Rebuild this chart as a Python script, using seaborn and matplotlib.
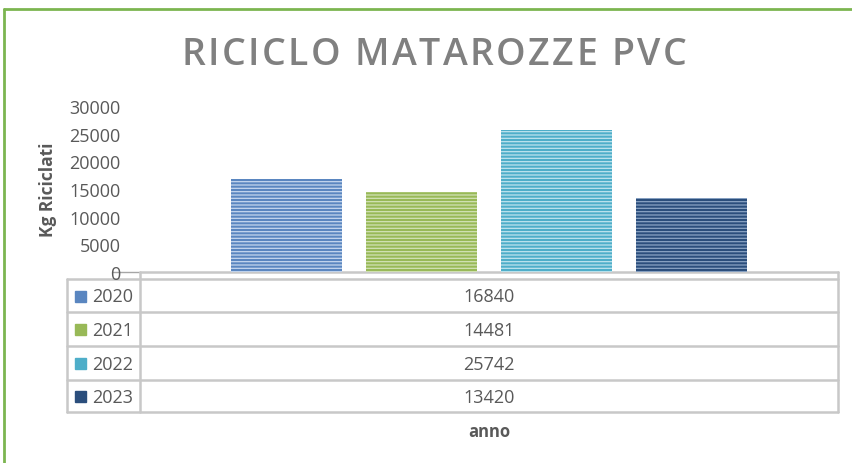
import matplotlib
matplotlib.use("Agg")
import matplotlib.pyplot as plt
import seaborn as sns
import pandas as pd
from matplotlib.font_manager import FontProperties

# data
anni = ["2020", "2021", "2022", "2023"]
kg_riciclati = [16840, 14481, 25742, 13420]
colori = ["#5a86c0", "#98b957", "#4eaec9", "#2b4e7c"]
righe = ["#c4d6ee", "#d2e2b6", "#bde4ee", "#8aa3c4"]
y_ticks = [0, 5000, 10000, 15000, 20000, 25000, 30000]
titolo = "RICICLO MATAROZZE PVC"

sns.set_theme(style="white")
plt.rcParams["font.family"] = ["Open Sans", "DejaVu Sans"]
plt.rcParams["hatch.linewidth"] = 0.9

W, H = 853, 464
fig = plt.figure(figsize=(W / 100, H / 100), dpi=100)
grigio = "#595959"


def box(x0, y0, x1, y1):
    return [x0 / W, 1 - y1 / H, (x1 - x0) / W, (y1 - y0) / H]


df = pd.DataFrame({"cat": [""] * len(anni), "anno": anni, "kg": kg_riciclati})

ax = fig.add_axes(box(140, 107, 838, 273))
sns.barplot(data=df, x="cat", y="kg", hue="anno", palette=colori, gap=0.18,
            ax=ax, legend=False, saturation=1)
for bar, c in zip(ax.patches, righe):
    bar.set_hatch("-----")
    bar.set_edgecolor(c)
    bar.set_linewidth(0)
ax.set_xlim(-0.517, 0.517)
ax.set_ylim(0, 30000)
ax.set_yticks(y_ticks)
ax.set_yticklabels([str(v) for v in y_ticks], color=grigio, fontsize=13)
ax.tick_params(axis="y", pad=14, length=0)
ax.set_xticks([])
ax.set_xlabel("")
ax.set_ylabel("")
for s in ax.spines.values():
    s.set_visible(False)
ax.patch.set_alpha(0)

# overlay in pixel space for table, labels and frame
ov = fig.add_axes([0, 0, 1, 1], zorder=-1)
ov.set_xlim(0, W)
ov.set_ylim(H, 0)
ov.axis("off")

ov.plot([4, 4], [10, H], color="#7cb550", lw=2)
ov.plot([4, W], [10, 10], color="#7cb550", lw=2)

# spaced-out title, letter by letter
renderer = fig.canvas.get_renderer()
fp = FontProperties(family="Open Sans", weight="semibold", size=27)
larg = [renderer.get_text_width_height_descent(ch, fp, ismath=False)[0]
        for ch in titolo]
spazio = (505 - sum(larg)) / (len(titolo) - 1)
x = 434 - 505 / 2
for ch, w in zip(titolo, larg):
    ov.text(x, 55, ch, ha="left", va="center", fontproperties=fp,
            color="#808080")
    x += w + spazio

ov.text(48, 190, "Kg Riciclati", ha="center", va="center", rotation=90,
        fontsize=12.5, fontweight="bold", color=grigio)
ov.text(489, 432, "anno", ha="center", va="center", fontsize=12,
        fontweight="bold", color=grigio)

lc = "#c8c8c8"
ov.plot([112, 140], [273, 273], color="#a6a6a6", lw=1)
ov.plot([140, 838], [273, 273], color=lc, lw=1.8)
row_y = [280, 313, 347, 381, 413]
for y in row_y:
    ov.plot([67, 838], [y, y], color=lc, lw=1.8)
ov.plot([67, 67], [280, 413], color=lc, lw=1.8)
ov.plot([140, 140], [273, 413], color=lc, lw=1.8)
ov.plot([838, 838], [273, 413], color=lc, lw=1.8)

for i, (a, v, c) in enumerate(zip(anni, kg_riciclati, colori)):
    yc = (row_y[i] + row_y[i + 1]) / 2
    ov.add_patch(plt.Rectangle((75, yc - 5), 11, 11, color=c))
    ov.text(92, yc + 1, a, ha="left", va="center", fontsize=13, color=grigio)
    ov.text(489, yc + 1, str(v), ha="center", va="center", fontsize=13,
            color=grigio)

fig.savefig("out.png", dpi=100)
